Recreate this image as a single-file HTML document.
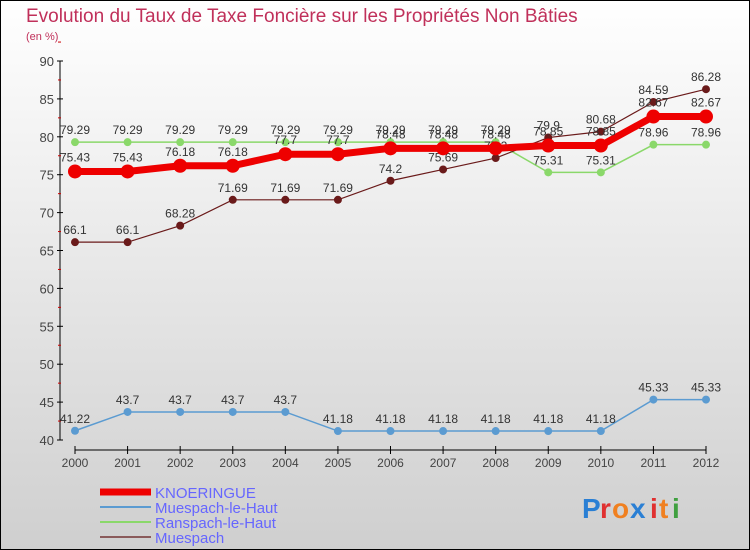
<!DOCTYPE html>
<html><head><meta charset="utf-8"><style>
body{margin:0}
#c{width:750px;height:550px;position:relative;overflow:hidden}
svg text{font-family:"Liberation Sans",sans-serif}
</style></head><body>
<div id="c">
<svg id="s" width="750" height="550" xmlns="http://www.w3.org/2000/svg">
<defs><linearGradient id="bg" x1="0" y1="0" x2="0" y2="1"><stop offset="0" stop-color="#ffffff"/><stop offset="1" stop-color="#cfcfcf"/></linearGradient></defs>
<rect x="0.5" y="0.5" width="749" height="549" fill="url(#bg)" stroke="#000"/>
<text x="26" y="22" font-size="19" fill="#c0305a">Evolution du Taux de Taxe Foncière sur les Propriétés Non Bâties</text>
<text x="26" y="40" font-size="11" fill="#c0305a">(en %)</text>
<g id="axes"></g><g id="series"></g><g id="legend"></g>
<g font-size="28" font-weight="bold">
<text x="582" y="518" fill="#2a7fd4">P</text><text x="600" y="518" fill="#e03030">r</text><text x="612" y="518" fill="#f08020">o</text><text x="630" y="518" fill="#2a7fd4">x</text><text x="650" y="518" fill="#e03030">i</text><text x="659" y="518" fill="#f08020">t</text><text x="672" y="518" fill="#40a040">i</text>
</g>
</svg></div>
<script>
const years=[2000,2001,2002,2003,2004,2005,2006,2007,2008,2009,2010,2011,2012];
const knoeringue=[75.43,75.43,76.18,76.18,77.7,77.7,78.48,78.48,78.48,78.85,78.85,82.67,82.67];
const muespachHaut=[41.22,43.7,43.7,43.7,43.7,41.18,41.18,41.18,41.18,41.18,41.18,45.33,45.33];
const ranspachHaut=[79.29,79.29,79.29,79.29,79.29,79.29,79.29,79.29,79.29,75.31,75.31,78.96,78.96];
const muespach=[66.1,66.1,68.28,71.69,71.69,71.69,74.2,75.69,77.2,79.9,80.68,84.59,86.28];
const yTicks=[40,45,50,55,60,65,70,75,80,85,90];
const NS="http://www.w3.org/2000/svg";
const xS=i=>75+i*(706-75)/(years.length-1);
const yS=v=>440-(v-40)*(440-61)/50;
function mk(p,t,a){const e=document.createElementNS(NS,t);for(const k in a)e.setAttribute(k,a[k]);p.appendChild(e);return e;}
const ax=document.getElementById('axes');
let l=mk(ax,'line',{x1:60,y1:61,x2:60,y2:440,stroke:'#000'});


l=mk(ax,'line',{x1:75,y1:450,x2:706,y2:450,stroke:'#000'});


yTicks.forEach(v=>{
 mk(ax,'line',{x1:57,y1:yS(v),x2:63,y2:yS(v),stroke:'#000'});
 mk(ax,'line',{x1:58,y1:yS(v+2.5),x2:61,y2:yS(v+2.5),stroke:'#c00'});
 const t=mk(ax,'text',{x:54,y:yS(v)+5,'font-size':13,'text-anchor':'end',fill:'#444'});t.textContent=v;
 
 
});
years.forEach((y,i)=>{
 mk(ax,'line',{x1:xS(i),y1:446,x2:xS(i),y2:454,stroke:'#000'});
 const t=mk(ax,'text',{x:xS(i),y:467,'font-size':12,'text-anchor':'middle',fill:'#444'});t.textContent=y;
 
 
});
const sg=document.getElementById('series');
function series(name,data,color,w,r,lblOff){
 const g=mk(sg,'g',{});
 
 
 mk(g,'polyline',{points:data.map((v,i)=>xS(i)+','+yS(v)).join(' '),fill:'none',stroke:color,'stroke-width':w});
 data.forEach((v,i)=>{
  const c=mk(g,'circle',{cx:xS(i),cy:yS(v),r:r,fill:color});
  
  
  const t=mk(g,'text',{x:xS(i),y:yS(v)-lblOff,'font-size':12,'text-anchor':'middle',fill:'#333'});t.textContent=v;
  
  
 });
}
series('muespach-le-haut-series',muespachHaut,'#5b9bd1',1.5,4,8);
series('ranspach-le-haut-series',ranspachHaut,'#8ad86a',1.5,4,8);
series('muespach-series',muespach,'#6a1a1a',1.2,4,8);
series('knoeringue-series',knoeringue,'#ee0000',7,7,10);
const lg=document.getElementById('legend');
[['KNOERINGUE','#ee0000',7],['Muespach-le-Haut','#5b9bd1',2],['Ranspach-le-Haut','#8ad86a',2],['Muespach','#8a5a5a',2]].forEach((d,i)=>{
 const y=492+i*15;
 const g=mk(lg,'g',{});
 
 
 mk(g,'line',{x1:100,y1:y,x2:151,y2:y,stroke:d[1],'stroke-width':d[2]});
 const t=mk(g,'text',{x:155,y:y+6,'font-size':15,fill:'#6666ff'});t.textContent=d[0];
});
</script>
</body></html>
